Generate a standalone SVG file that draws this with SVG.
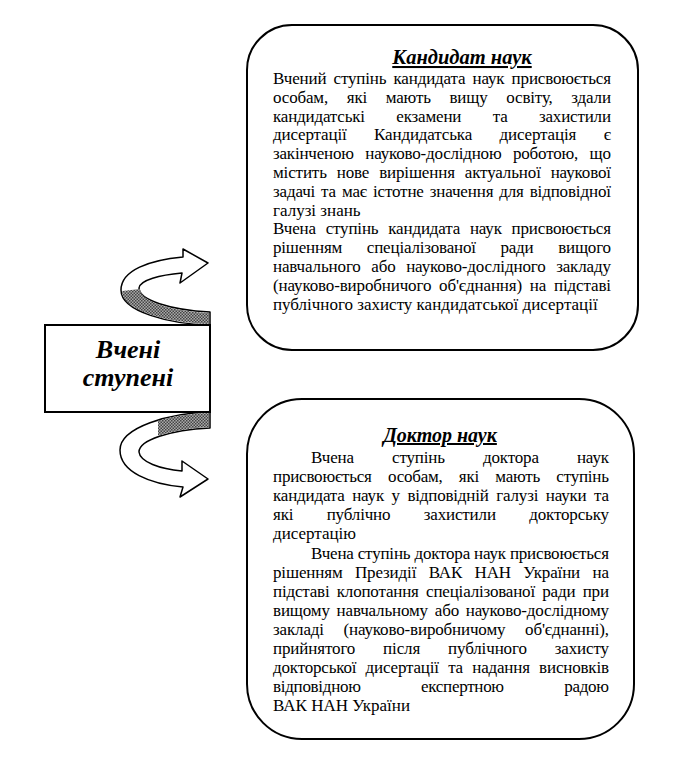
<svg xmlns="http://www.w3.org/2000/svg" width="691" height="765" viewBox="0 0 691 765">
<defs>
<pattern id="hatch" width="3" height="3" patternUnits="userSpaceOnUse">
<rect width="3" height="3" fill="#aaa"/>
<rect width="1.5" height="1.5" fill="#444"/>
<rect x="1.5" y="1.5" width="1.5" height="1.5" fill="#444"/>
</pattern>
<clipPath id="lowclip"><rect x="158" y="400" width="60" height="40"/></clipPath>
</defs>
<style>
.frame{fill:#fff;stroke:#000;stroke-width:2}
.band{fill:#fff;stroke:#000;stroke-width:1.5;stroke-linejoin:round}
.shade{fill:url(#hatch);stroke:none}
.body{font-family:"Liberation Serif","Times New Roman",serif;font-size:17px;fill:#000}
.title{font-family:"Liberation Serif","Times New Roman",serif;font-weight:bold;font-style:italic;text-decoration:underline;fill:#000}
.big{font-family:"Liberation Serif","Times New Roman",serif;font-size:26px;font-weight:bold;font-style:italic;fill:#000}
</style>
<rect width="691" height="765" fill="#fff"/>

<g id="connectors">
<path class="band" d="M 210 325 C 170 324, 121 312, 121 290 C 121 270, 150 260, 183 257 L 183 249 L 208 263 L 180 283 L 182 273 C 160 275, 140 280, 139 288 C 139 300, 170 310, 210 312 Z"/>
<path class="shade" d="M 122 291 C 122 311, 170 323, 209 324 L 209 313 C 170 311, 140 301, 140 289 Z"/>
<path class="band" d="M 210 412 C 170 413, 120 427, 120 450 C 120 472, 150 484, 183 487 L 180 497 L 208 479 L 182 461 L 182 471 C 160 469, 140 462, 139 452 C 139 440, 170 430, 210 428 Z"/>
<path class="shade" clip-path="url(#lowclip)" d="M 209 413 C 170 414, 121 427, 121 450 L 138 452 C 138 440, 170 429, 209 427 Z"/>
</g>

<g id="degrees">
<rect class="frame" x="45" y="325" width="165" height="87"/>
<text class="big" x="128" y="358" text-anchor="middle">Вчені</text>
<text class="big" x="128" y="386" text-anchor="middle">ступені</text>
</g>

<g id="candidate">
<rect class="frame" x="247" y="25" width="391" height="325" rx="45" ry="45"/>
<text class="title" x="462" y="64" text-anchor="middle" font-size="20.5">Кандидат наук</text>
<text class="body" x="273" y="84" textLength="338" lengthAdjust="spacing" style="word-spacing:3.1px">Вчений ступінь кандидата наук присвоюється</text>
<text class="body" x="273" y="102.8" textLength="338" lengthAdjust="spacing" style="word-spacing:14.6px">особам, які мають вищу освіту, здали</text>
<text class="body" x="273" y="121.6" textLength="338" lengthAdjust="spacing" style="word-spacing:27.4px">кандидатські екзамени та захистили</text>
<text class="body" x="273" y="140.4" textLength="338" lengthAdjust="spacing" style="word-spacing:23.4px">дисертації Кандидатська дисертація є</text>
<text class="body" x="273" y="159.2" textLength="338" lengthAdjust="spacing" style="word-spacing:7.6px">закінченою науково-дослідною роботою, що</text>
<text class="body" x="273" y="178" textLength="338" lengthAdjust="spacing" style="word-spacing:5.8px">містить нове вирішення актуальної наукової</text>
<text class="body" x="273" y="196.8" textLength="338" lengthAdjust="spacing" style="word-spacing:1.8px">задачі та має істотне значення для відповідної</text>
<text class="body" x="273" y="215.6">галузі знань</text>
<text class="body" x="273" y="234.4" textLength="338" lengthAdjust="spacing" style="word-spacing:5.7px">Вчена ступінь кандидата наук присвоюється</text>
<text class="body" x="273" y="253.2" textLength="338" lengthAdjust="spacing" style="word-spacing:20.6px">рішенням спеціалізованої ради вищого</text>
<text class="body" x="273" y="272" textLength="338" lengthAdjust="spacing" style="word-spacing:6.5px">навчального або науково-дослідного закладу</text>
<text class="body" x="273" y="290.8" textLength="338" lengthAdjust="spacing" style="word-spacing:3.7px">(науково-виробничого об'єднання) на підставі</text>
<text class="body" x="273" y="309.6">публічного захисту кандидатської дисертації</text>
</g>

<g id="doctor">
<rect class="frame" x="247" y="399" width="387" height="340" rx="55" ry="55"/>
<text class="title" x="440" y="442" text-anchor="middle" font-size="20">Доктор наук</text>
<text class="body" x="311" y="463" textLength="298" lengthAdjust="spacing" style="word-spacing:34px">Вчена ступінь доктора наук</text>
<text class="body" x="273" y="482.1" textLength="336" lengthAdjust="spacing" style="word-spacing:12.2px">присвоюється особам, які мають ступінь</text>
<text class="body" x="273" y="501.2" textLength="336" lengthAdjust="spacing" style="word-spacing:3.5px">кандидата наук у відповідній галузі науки та</text>
<text class="body" x="273" y="520.3" textLength="336" lengthAdjust="spacing" style="word-spacing:29.2px">які публічно захистили докторську</text>
<text class="body" x="273" y="539.4">дисертацію</text>
<text class="body" x="311" y="558.5" textLength="298" lengthAdjust="spacing">Вчена ступінь доктора наук присвоюється</text>
<text class="body" x="273" y="577.6" textLength="336" lengthAdjust="spacing" style="word-spacing:8.3px">рішенням Президії ВАК НАН України на</text>
<text class="body" x="273" y="596.7" textLength="336" lengthAdjust="spacing" style="word-spacing:3.3px">підставі клопотання спеціалізованої ради при</text>
<text class="body" x="273" y="615.8" textLength="336" lengthAdjust="spacing" style="word-spacing:2.7px">вищому навчальному або науково-дослідному</text>
<text class="body" x="273" y="634.9" textLength="336" lengthAdjust="spacing" style="word-spacing:15.6px">закладі (науково-виробничому об'єднанні),</text>
<text class="body" x="273" y="654" textLength="336" lengthAdjust="spacing" style="word-spacing:23.8px">прийнятого після публічного захисту</text>
<text class="body" x="273" y="673.1" textLength="336" lengthAdjust="spacing" style="word-spacing:5.2px">докторської дисертації та надання висновків</text>
<text class="body" x="273" y="692.2" textLength="336" lengthAdjust="spacing" style="word-spacing:56.5px">відповідною експертною радою</text>
<text class="body" x="273" y="711.3">ВАК НАН України</text>
</g>
</svg>
